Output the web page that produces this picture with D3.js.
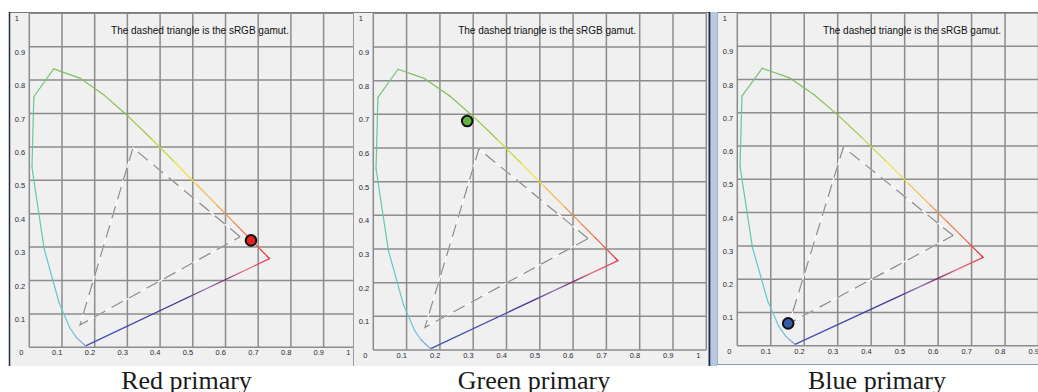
<!DOCTYPE html>
<html>
<head>
<meta charset="utf-8">
<script src="https://cdn.jsdelivr.net/npm/d3@7"></script>
<style>
  html, body { margin: 0; padding: 0; background: #fff; }
  svg { display: block; }
</style>
</head>
<body>
<div id="chart"></div>
<script>
// CIE 1931 spectral locus, 10 nm steps
const wavelengths = [380, 390, 400, 410, 420, 430, 440, 450, 460, 470, 480, 490, 500, 510, 520, 530, 540,
  550, 560, 570, 580, 590, 600, 610, 620, 630, 640, 650, 660, 670, 680, 690, 700];
const locusX = [0.1741, 0.1738, 0.1733, 0.1726, 0.1714, 0.1689, 0.1644, 0.1566, 0.1440, 0.1241, 0.0913, 0.0454,
  0.0082, 0.0139, 0.0743, 0.1547, 0.2296, 0.3016, 0.3731, 0.4441, 0.5125, 0.5752, 0.6270, 0.6658, 0.6915,
  0.7079, 0.7190, 0.7260, 0.7300, 0.7320, 0.7334, 0.7344, 0.7347];
const locusY = [0.0050, 0.0049, 0.0048, 0.0048, 0.0051, 0.0069, 0.0109, 0.0177, 0.0297, 0.0578, 0.1327, 0.2950,
  0.5384, 0.7502, 0.8338, 0.8059, 0.7543, 0.6923, 0.6245, 0.5547, 0.4866, 0.4242, 0.3725, 0.3340, 0.3083,
  0.2920, 0.2809, 0.2740, 0.2700, 0.2680, 0.2666, 0.2656, 0.2653];

// dashed sRGB triangle (R, G, B corners as drawn)
const gamutX = [0.645, 0.317, 0.155];
const gamutY = [0.331, 0.597, 0.067];

const ticks = [0, 0.1, 0.2, 0.3, 0.4, 0.5, 0.6, 0.7, 0.8, 0.9, 1];
const tickLabels = ['0', '0.1', '0.2', '0.3', '0.4', '0.5', '0.6', '0.7', '0.8', '0.9', '1'];

const captions = ['Red primary', 'Green primary', 'Blue primary'];
const markerX = [0.678, 0.282, 0.152];
const markerY = [0.320, 0.680, 0.067];

const title = 'The dashed triangle is the sRGB gamut.';

const markerColors = ['#e8201e', '#62b545', '#3759a8'];

// screen layout of the three captured windows
const panels = [
  { left: 9, right: 353, top: 12, bottom: 366, x0: 29.3, x1: 356.3, y0: 347.3, y1: 13.3, capX: 186.5 },
  { left: 353, right: 709, top: 12, bottom: 366, x0: 373.3, x1: 706.3, y0: 350, y1: 13.3, capX: 534 },
  { left: 717, right: 1038, top: 12, bottom: 365, x0: 737.3, x1: 1072, y0: 345.7, y1: 13, capX: 877 }
];

const width = 1038;
const height = 392;

const locusColor = d3.scaleLinear()
  .domain([380, 440, 460, 470, 480, 490, 500, 510, 520, 540, 555, 565, 575, 585, 595, 610, 630, 700])
  .range(['#8c8cdc', '#8a9ee0', '#78b4e0', '#70c6de', '#66c8d2', '#5ec8c2', '#62c8aa', '#70c882',
    '#7cc266', '#7ebe52', '#9ac840', '#c8d840', '#f2e23e', '#f2b848', '#f09650', '#f0704e', '#e84848', '#e8323e'])
  .interpolate(d3.interpolateRgb);

const purpleStops = [
  [0, '#4252b4'], [0.35, '#3e46a8'], [0.55, '#4a2c8c'], [0.66, '#9c74b8'],
  [0.76, '#7e2466'], [0.86, '#e86a82'], [1, '#e8404c']
];

const svg = d3.select('#chart')
  .append('svg')
  .attr('width', width)
  .attr('height', height);

const defs = svg.append('defs');

panels.forEach((p, i) => {
  const x = d3.scaleLinear().domain([0, 1]).range([p.x0, p.x1]);
  const y = d3.scaleLinear().domain([0, 1]).range([p.y0, p.y1]);

  defs.append('clipPath')
    .attr('id', `clip${i}`)
    .append('rect')
    .attr('x', p.left).attr('y', p.top)
    .attr('width', p.right - p.left).attr('height', p.bottom - p.top);

  const g = svg.append('g').attr('clip-path', `url(#clip${i})`);

  g.append('rect')
    .attr('x', p.left).attr('y', p.top)
    .attr('width', p.right - p.left).attr('height', p.bottom - p.top)
    .attr('fill', '#f0f0f0');

  // grid
  g.selectAll('.vgrid')
    .data(ticks)
    .enter()
    .append('line')
    .attr('x1', d => x(d)).attr('x2', d => x(d))
    .attr('y1', y(0)).attr('y2', y(1))
    .attr('stroke', '#8c8c8c')
    .attr('stroke-width', 1.5);

  g.selectAll('.hgrid')
    .data(ticks)
    .enter()
    .append('line')
    .attr('x1', x(0)).attr('x2', x(1))
    .attr('y1', d => y(d)).attr('y2', d => y(d))
    .attr('stroke', '#8c8c8c')
    .attr('stroke-width', 1.5);

  // tick labels
  g.selectAll('.xlab')
    .data(ticks)
    .enter()
    .append('text')
    .attr('x', d => x(d) - 10)
    .attr('y', y(0) + 8)
    .style('font-family', 'Liberation Sans, Arial, sans-serif')
    .style('font-size', '7.5px')
    .attr('fill', '#2a2a34')
    .text((d, k) => tickLabels[k]);

  g.selectAll('.ylab')
    .data(ticks.slice(1))
    .enter()
    .append('text')
    .attr('x', p.x0 - 14.5)
    .attr('y', d => y(d) + 8)
    .style('font-family', 'Liberation Sans, Arial, sans-serif')
    .style('font-size', '7.5px')
    .attr('fill', '#2a2a34')
    .text((d, k) => tickLabels[k + 1]);

  // title
  g.append('text')
    .attr('x', x(0.522))
    .attr('y', y(0.938))
    .attr('text-anchor', 'middle')
    .style('font-family', 'Liberation Sans, Arial, sans-serif')
    .style('font-size', '10px')
    .attr('fill', '#111')
    .text(title);

  // sRGB triangle: white under gray dashes
  const tri = d3.line().x(d => x(d[0])).y(d => y(d[1]));
  const triPts = gamutX.map((gx, k) => [gx, gamutY[k]]);
  triPts.push(triPts[0]);
  g.append('path')
    .attr('d', tri(triPts))
    .attr('fill', 'none')
    .attr('stroke', '#ffffff')
    .attr('stroke-width', 1.2);
  g.append('path')
    .attr('d', tri(triPts))
    .attr('fill', 'none')
    .attr('stroke', '#8a8a8a')
    .attr('stroke-width', 1.2)
    .attr('stroke-dasharray', '13,7');

  // spectral locus, one segment per step
  const segs = d3.range(wavelengths.length - 1);
  g.selectAll('.locus')
    .data(segs)
    .enter()
    .append('line')
    .attr('x1', k => x(locusX[k])).attr('y1', k => y(locusY[k]))
    .attr('x2', k => x(locusX[k + 1])).attr('y2', k => y(locusY[k + 1]))
    .attr('stroke', k => locusColor((wavelengths[k] + wavelengths[k + 1]) / 2))
    .attr('stroke-width', 1.2)
    .attr('stroke-linecap', 'round');

  // line of purples
  const last = wavelengths.length - 1;
  const grad = defs.append('linearGradient')
    .attr('id', `purples${i}`)
    .attr('gradientUnits', 'userSpaceOnUse')
    .attr('x1', x(locusX[0])).attr('y1', y(locusY[0]))
    .attr('x2', x(locusX[last])).attr('y2', y(locusY[last]));
  purpleStops.forEach(s => grad.append('stop').attr('offset', s[0]).attr('stop-color', s[1]));

  g.append('line')
    .attr('x1', x(locusX[0])).attr('y1', y(locusY[0]))
    .attr('x2', x(locusX[last])).attr('y2', y(locusY[last]))
    .attr('stroke', `url(#purples${i})`)
    .attr('stroke-width', 1.3);

  // selected primary
  g.append('circle')
    .attr('cx', x(markerX[i]))
    .attr('cy', y(markerY[i]))
    .attr('r', 5.3)
    .attr('fill', markerColors[i])
    .attr('stroke', '#111')
    .attr('stroke-width', 2);

  // caption under the window
  svg.append('text')
    .attr('x', p.capX)
    .attr('y', 389)
    .attr('text-anchor', 'middle')
    .style('font-family', 'Liberation Serif, Times New Roman, serif')
    .style('font-size', '26px')
    .attr('fill', '#1a1a1a')
    .text(captions[i]);
});

// window borders
const border = (x1, y1, x2, y2, c, w) => svg.append('line')
  .attr('x1', x1).attr('y1', y1).attr('x2', x2).attr('y2', y2)
  .attr('stroke', c).attr('stroke-width', w);

border(9, 12.5, 353, 12.5, '#7a7a7a', 1);
border(9.5, 12, 9.5, 366, '#1e2b48', 1.5);
border(353, 12.5, 709, 12.5, '#7a7a7a', 1);
border(353.5, 12, 353.5, 366, '#9a9a9a', 1);
border(709.5, 12, 709.5, 366, '#1e2b48', 2);
svg.append('rect')
  .attr('x', 711).attr('y', 12).attr('width', 6).attr('height', 354)
  .attr('fill', '#b6c9e1');
border(717, 12.5, 1038, 12.5, '#7a7a7a', 1);
border(717.5, 12, 717.5, 365, '#a4b2c4', 1);
border(717, 364.5, 1038, 364.5, '#8898b0', 1);
</script>
</body>
</html>
